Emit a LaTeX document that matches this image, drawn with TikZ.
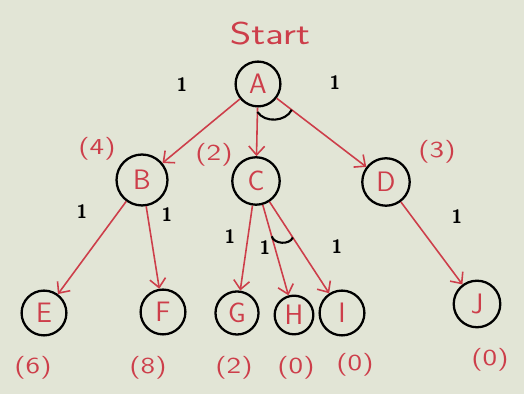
\documentclass[tikz,border=0pt]{standalone}
\usetikzlibrary{positioning,arrows.meta,calc}
\definecolor{inkred}{RGB}{205,62,74}
\definecolor{paper}{RGB}{226,229,214}

\begin{document}
\begin{tikzpicture}[x=0.02cm, y=0.02cm, font=\sffamily,
  state/.style={circle, draw=black, line width=1.3pt, text=inkred,
    inner sep=0pt, font=\sffamily\fontsize{16}{18}\selectfont},
  edge/.style={-{Straight Barb[length=5pt,width=9pt]}, inkred, line width=0.9pt},
  cost/.style={text=inkred, font=\sffamily\fontsize{13}{15}\selectfont,
    xscale=1.3, transform shape},
  wt/.style={text=black, font=\sffamily\bfseries\fontsize{11}{13}\selectfont}]
  % paper
  \fill[paper] (0,0) rectangle (524,394);
  \useasboundingbox (0,0) rectangle (524,394);
  % States of the AND-OR graph
  \node[state, minimum size=25.5pt] (A) at (258,310) {A};
  \node[state, minimum size=29pt] (B) at (142,214) {B};
  \node[state, minimum size=27pt] (C) at (256,213) {C};
  \node[state, minimum size=27pt] (D) at (386,212) {D};
  \node[state, minimum size=25.5pt] (E) at (44,81) {E};
  \node[state, minimum size=25.5pt] (F) at (163,82) {F};
  \node[state, minimum size=24.5pt] (G) at (237,81) {G};
  \node[state, minimum size=22pt] (H) at (294,79) {H};
  \node[state, minimum size=25.5pt] (I) at (342,81) {I};
  \node[state, minimum size=26.5pt] (J) at (477,90) {J};
  \node[cost, font=\sffamily\fontsize{18}{20}\selectfont] (start) at (270,360) {Start};
  % Edges
  \draw[edge] (A) -- (B);
  \draw[edge] (A) -- (C);
  \draw[edge] (A) -- (D);
  \draw[edge] (B) -- (E);
  \draw[edge] (B) -- (F);
  \draw[edge] (C) -- (G);
  \draw[edge] (C) -- (H);
  \draw[edge] (C) -- (I);
  \draw[edge] (D) -- (J);
  % AND arcs
  \draw[line width=1.2pt] ($(A)!0.56cm!(C)$) to[bend right=60] ($(A)!0.85cm!(D)$);
  \draw[line width=1.2pt] ($(C)!1.15cm!(H)$) to[bend right=70] ($(C)!1.35cm!(I)$);
  % Edge costs
  \node[wt] (wAB) at (182,309) {1};
  \node[wt] (wAD) at (335,311) {1};
  \node[wt] (wBE) at (82,182) {1};
  \node[wt] (wBF) at (167,179) {1};
  \node[wt] (wCG) at (230,157) {1};
  \node[wt] (wCH) at (265,146) {1};
  \node[wt] (wCI) at (337,147) {1};
  \node[wt] (wDJ) at (457,177) {1};
  % Heuristic values
  \node[cost] (hB) at (97,245) {(4)};
  \node[cost] (hC) at (214,239) {(2)};
  \node[cost] (hD) at (437,242) {(3)};
  \node[cost] (hE) at (33,26) {(6)};
  \node[cost] (hF) at (148,26) {(8)};
  \node[cost] (hG) at (234,26) {(2)};
  \node[cost] (hH) at (296,26) {(0)};
  \node[cost] (hI) at (355,29) {(0)};
  \node[cost] (hJ) at (490,34) {(0)};
\end{tikzpicture}
\end{document}
